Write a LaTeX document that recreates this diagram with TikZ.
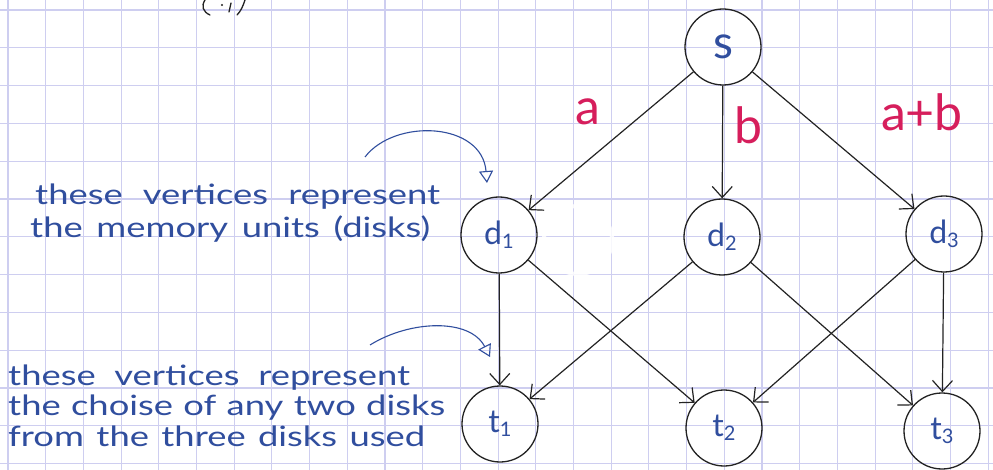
\documentclass[tikz,border=0pt]{standalone}
\usepackage{fontspec}
\usetikzlibrary{arrows.meta}
\newfontfamily\hand{Lato}
\newfontfamily\notefont[FakeStretch=1.3]{Lato}
\definecolor{gridc}{RGB}{206,206,240}
\definecolor{ink}{RGB}{35,35,35}
\definecolor{pen}{RGB}{48,78,158}
\definecolor{redpen}{RGB}{214,30,92}
\tikzset{
  gridline/.style={draw=gridc, line width=1.1pt},
  vtx/.style={circle, draw=ink, line width=1.3pt, minimum size=76pt, inner sep=0pt,
    text=pen, font=\hand\fontsize{32}{32}\selectfont},
  edge/.style={draw=ink, line width=1.2pt, -{Straight Barb[length=11pt,width=20pt]}},
  weight/.style={text=redpen, font=\hand\fontsize{50}{50}\selectfont, inner sep=0pt},
  note/.style={text=pen, font=\notefont\fontsize{28}{28}\selectfont, inner sep=0pt, anchor=base west},
  pointer/.style={draw=pen, line width=1.1pt, -{Triangle[open,length=12pt,width=14pt]}},
  inkline/.style={draw=ink, line width=1.3pt, line cap=round}
}
\newcommand{\sub}[1]{\raisebox{-0.25ex}{\fontsize{20}{20}\selectfont #1}}
\begin{document}
\begin{tikzpicture}[x=1pt,y=-1pt]
  \useasboundingbox (0,0) rectangle (993,470);
  \clip (0,0) rectangle (993,470);
  \fill[white] (0,0) rectangle (993,470);
  % squared paper
  \foreach \i in {0,...,26} \draw[gridline] ({8+37.7*\i},0) -- ({8+37.7*\i},470);
  \foreach \j in {0,...,12} \draw[gridline] (0,{10+37.8*\j}) -- (993,{10+37.8*\j});

  % lower ends of the part label's brackets at the top edge
  \draw[inkline] (205,0) .. controls (201,6) and (203,12) .. (210,15);
  \draw[inkline] (245,0) .. controls (243,6) and (241,11) .. (237,15);
  \draw[inkline] (231,3) -- (229,12);
  \fill[ink] (222,5) circle (1.2);

  % erased circle next to d1
  \draw[white, line width=4pt, opacity=0.85] (578,240) circle (34);

  % vertices
  \node[vtx, font=\hand\fontsize{46}{46}\selectfont] (s) at (723,47) {s};
  \node[vtx] (d1) at (499,235) {d\sub{1}};
  \node[vtx] (d2) at (722,237) {d\sub{2}};
  \node[vtx] (d3) at (944,234) {d\sub{3}};
  \node[vtx] (t1) at (500,424) {t\sub{1}};
  \node[vtx] (t2) at (724,428) {t\sub{2}};
  \node[vtx] (t3) at (942,431) {t\sub{3}};

  % arcs
  \draw[edge] (s) -- (d1);
  \draw[edge] (s) -- (d2);
  \draw[edge] (s) -- (d3);
  \draw[edge] (d1) -- (t1);
  \draw[edge] (d1) -- (t2);
  \draw[edge] (d2) -- (t1);
  \draw[edge] (d2) -- (t3);
  \draw[edge] (d3) -- (t2);
  \draw[edge] (d3) -- (t3);

  % stored values
  \node[weight] (wa) at (588,112) {a};
  \node[weight] (wb) at (748,125) {b};
  \node[weight] (wab) at (922,112) {a+b};

  % annotations
  \node[note] (n1a) at (35,205) {\makebox[405pt][s]{these vertices represent}};
  \node[note] (n1b) at (30,238) {\makebox[400pt][s]{the memory units (disks)}};
  \node[note] (n2a) at (8,385) {\makebox[402pt][s]{these vertices represent}};
  \node[note] (n2b) at (8,415) {\makebox[437pt][s]{the choise of any two disks}};
  \node[note] (n2c) at (8,446) {\makebox[417pt][s]{from the three disks used}};

  \coordinate (p1s) at (365,157);
  \coordinate (p1e) at (487,183);
  \draw[pointer] (p1s) .. controls (395,118) and (482,122) .. (p1e);
  \coordinate (p2s) at (370,345);
  \coordinate (p2e) at (490,357);
  \draw[pointer] (p2s) .. controls (410,320) and (470,318) .. (p2e);
\end{tikzpicture}
\end{document}
